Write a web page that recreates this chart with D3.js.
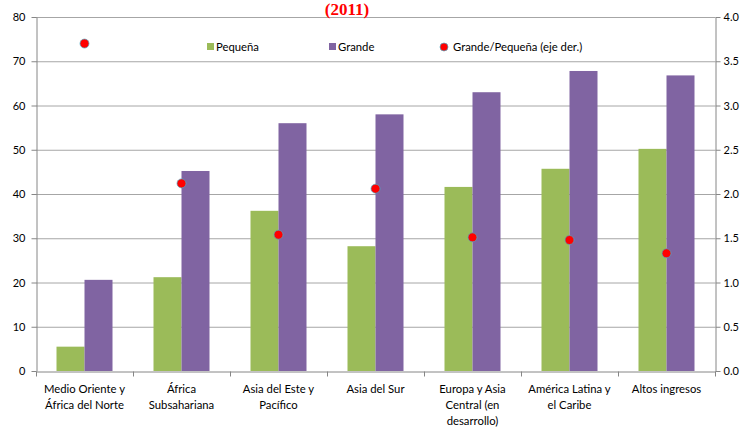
<!DOCTYPE html>
<html><head><meta charset="utf-8">
<script src="https://cdn.jsdelivr.net/npm/d3@7"></script>
<style>body{margin:0;background:#fff}svg{display:block}text{font-family:Lato,"Open Sans",sans-serif}</style>
</head><body><svg id="c" width="749" height="427"></svg>
<script>
const categories = [
  ["Medio Oriente y","África del Norte"],
  ["África","Subsahariana"],
  ["Asia del Este y","Pacífico"],
  ["Asia del Sur"],
  ["Europa y Asia","Central (en","desarrollo)"],
  ["América Latina y","el Caribe"],
  ["Altos ingresos"]
];
const pequena = [5.5, 21.2, 36.2, 28.2, 41.6, 45.7, 50.2];
const grande = [20.6, 45.2, 56.0, 58.0, 63.0, 67.8, 66.8];
const ratio = [3.7, 2.12, 1.54, 2.06, 1.51, 1.48, 1.33];
const leftTicks = [0,10,20,30,40,50,60,70,80];
const rightTicks = [0,0.5,1,1.5,2,2.5,3,3.5,4];
const seriesNames = ["Pequeña","Grande","Grande/Pequeña (eje der.)"];
const title = "(2011)";

const svg = d3.select("#c");
const L = 36, R = 715, T = 17, B = 371;
const x = d3.scaleBand().domain(d3.range(categories.length)).range([L, R]);
const y = d3.scaleLinear().domain([0, 80]).range([B, T]);
const y2 = d3.scaleLinear().domain([0, 4]).range([B, T]);
const barW = 28;

// gridlines
svg.append("g").selectAll("line").data(leftTicks.filter(d=>d>0)).join("line")
  .attr("x1", L).attr("x2", R).attr("y1", d=>y(d)+0.5).attr("y2", d=>y(d)+0.5)
  .attr("stroke", "#a6a6a6").attr("stroke-width", 1);

// bars
const cx = i => x(i) + x.bandwidth()/2;
svg.append("g").selectAll("rect").data(pequena).join("rect")
  .attr("x", (d,i)=>cx(i)-barW).attr("width", barW)
  .attr("y", d=>y(d)).attr("height", d=>B-y(d)).attr("fill", "#9BBB59");
svg.append("g").selectAll("rect").data(grande).join("rect")
  .attr("x", (d,i)=>cx(i)).attr("width", barW)
  .attr("y", d=>y(d)).attr("height", d=>B-y(d)).attr("fill", "#8064A2");

// axes
const axStyle = g => { g.select(".domain").attr("stroke","#868686"); g.selectAll(".tick line").attr("stroke","#868686");
  g.selectAll(".tick text").attr("fill","#000").style("font-size","11px").style("font-family","Lato, sans-serif"); };
svg.append("g").attr("transform", `translate(${L+0.5},0)`)
  .call(d3.axisLeft(y).tickValues(leftTicks).tickSize(5).tickSizeOuter(0).tickPadding(6).tickFormat(d3.format("d")))
  .call(axStyle);
svg.append("g").attr("transform", `translate(${R+0.5},0)`)
  .call(d3.axisRight(y2).tickValues(rightTicks).tickSize(5).tickSizeOuter(0).tickPadding(3).tickFormat(d3.format(".1f")))
  .call(axStyle);
const xg = svg.append("g").attr("transform", `translate(0,${B+0.5})`)
  .call(d3.axisBottom(x).tickValues([]).tickSizeOuter(0));
xg.select(".domain").attr("stroke","#868686");
xg.selectAll("line.sep").data(d3.range(categories.length+1)).join("line").attr("class","sep")
  .attr("x1", i=>L + i*x.bandwidth()+0.5).attr("x2", i=>L + i*x.bandwidth()+0.5)
  .attr("y1", 0).attr("y2", 5).attr("stroke","#868686");

// category labels
svg.append("g").selectAll("text").data(categories).join("text")
  .attr("x", (d,i)=>cx(i)).attr("y", 393).attr("text-anchor","middle")
  .style("font-size","11.3px").attr("fill","#000")
  .selectAll("tspan").data(d=>d).join("tspan")
  .attr("x", function(){ return d3.select(this.parentNode).attr("x"); })
  .attr("dy", (d,j)=> j===0 ? 0 : 16).text(d=>d);

// ratio dots
svg.append("g").selectAll("circle").data(ratio).join("circle")
  .attr("cx", (d,i)=>cx(i)).attr("cy", d=>y2(d)).attr("r", 4.5)
  .attr("fill", "#FF0000").attr("stroke", "#4BACC6").attr("stroke-width", 0.7);

// legend
const lg = svg.append("g").style("font-size","11.3px");
lg.append("rect").attr("x", 207).attr("y", 43).attr("width", 7).attr("height", 7).attr("fill", "#9BBB59");
lg.append("text").attr("x", 216).attr("y", 51).text(seriesNames[0]);
lg.append("rect").attr("x", 329).attr("y", 43).attr("width", 7).attr("height", 7).attr("fill", "#8064A2");
lg.append("text").attr("x", 338).attr("y", 51).text(seriesNames[1]);
lg.append("circle").attr("cx", 444).attr("cy", 47).attr("r", 4).attr("fill","#FF0000").attr("stroke","#4BACC6").attr("stroke-width",0.7);
lg.append("text").attr("x", 453).attr("y", 51).text(seriesNames[2]);

// title
svg.append("text").attr("x", 347).attr("y", 15).attr("text-anchor","middle")
  .style("font-family","'Liberation Serif', 'Times New Roman', serif").style("font-weight","bold")
  .style("font-size","17px").attr("fill","#FF0000").text(title);
</script></body></html>
